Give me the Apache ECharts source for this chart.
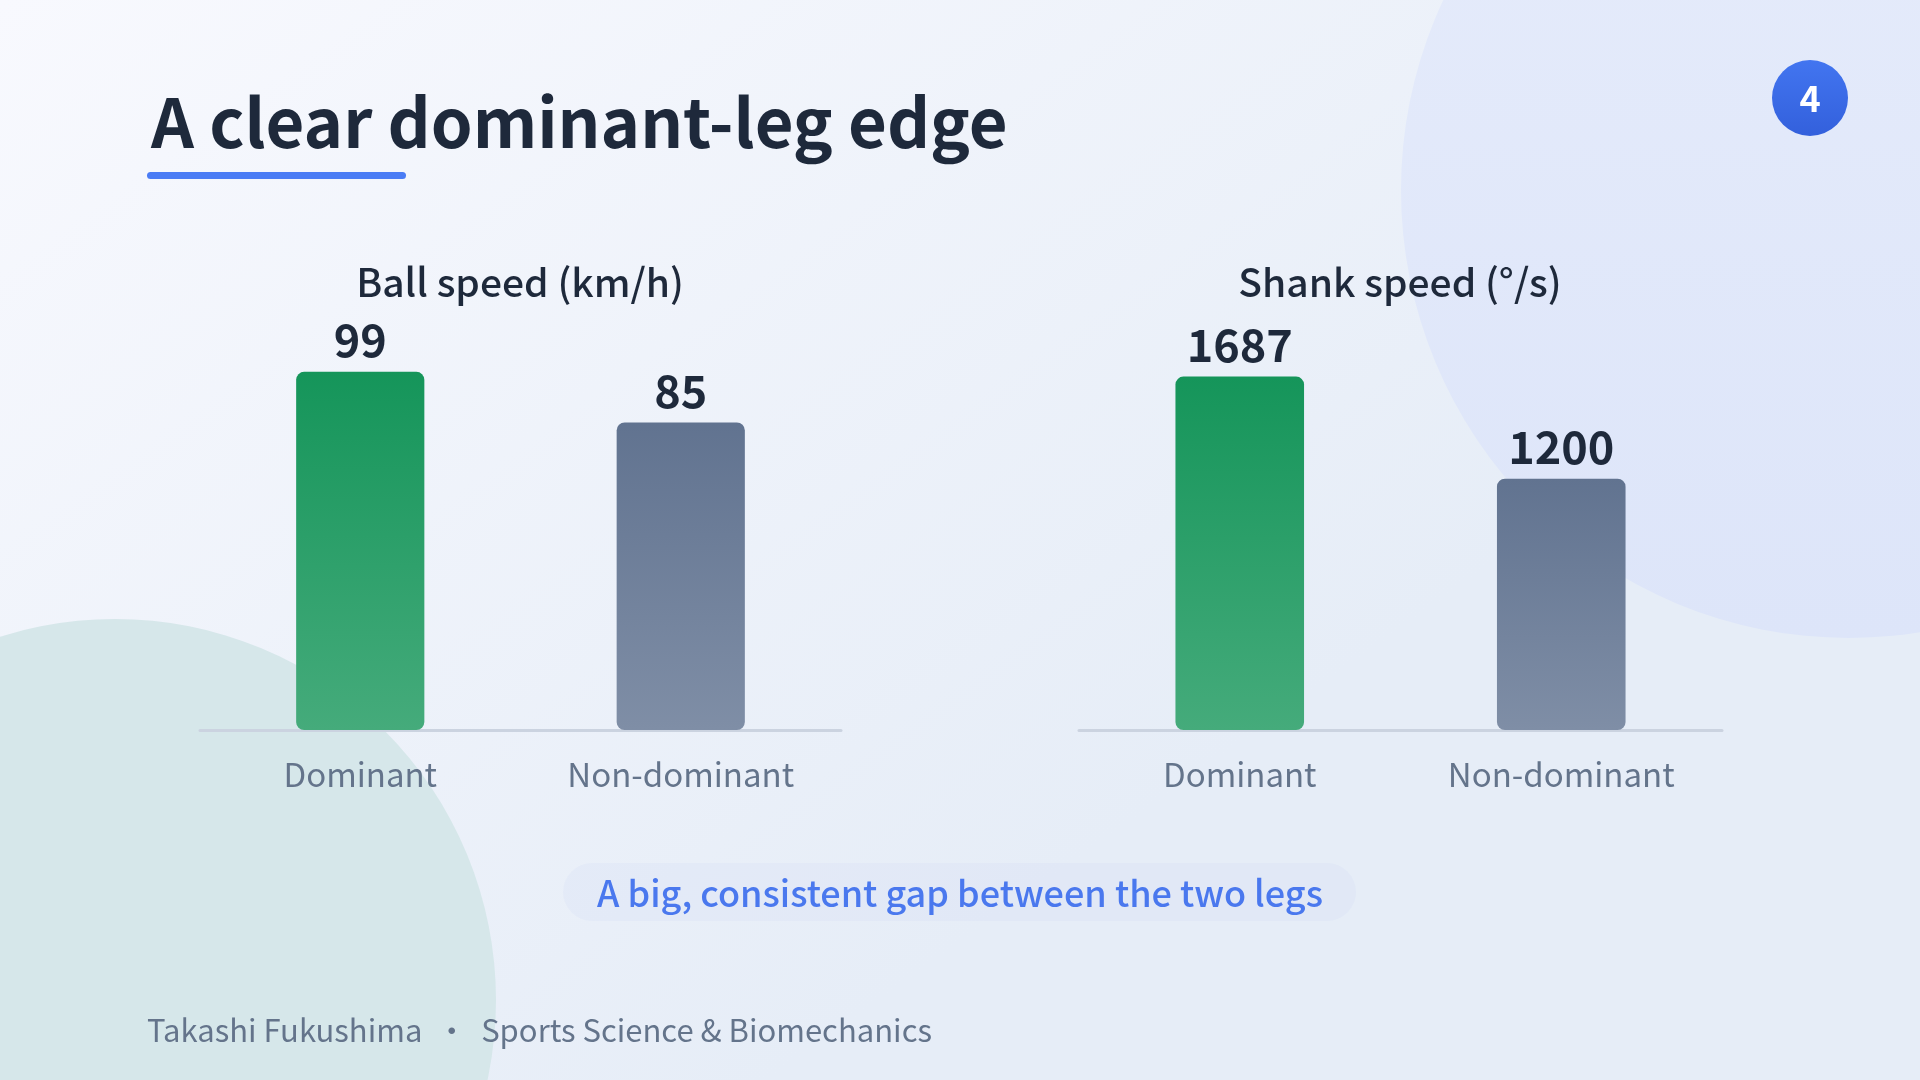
<!DOCTYPE html>
<html>
<head>
<meta charset="utf-8">
<script src="https://cdn.jsdelivr.net/npm/echarts@6/dist/echarts.min.js"></script>
<style>
html,body{margin:0;padding:0;width:1920px;height:1080px;overflow:hidden;}
#chart{width:1920px;height:1080px;}
</style>
</head>
<body>
<div id="chart"></div>
<script>
const categories = ['Dominant', 'Non-dominant'];
const ballSpeed = [99, 85];
const shankSpeed = [1687, 1200];
const chartTitles = ['Ball speed (km/h)', 'Shank speed (°/s)'];
const pageTitle = 'A clear dominant-leg edge';
const calloutText = 'A big, consistent gap between the two legs';
const footerText = 'Takashi Fukushima  ·  Sports Science & Biomechanics';
const pageNumber = '4';

const FONT = '"Noto Sans CJK SC", "Noto Sans", sans-serif';
const dark = '#1e293b';
const gray = '#64748b';

const grad = (a, b) => new echarts.graphic.LinearGradient(0, 0, 0, 1, [
  { offset: 0, color: a }, { offset: 1, color: b }
]);
const barColors = [grad('#15955a', '#45ab7b'), grad('#617390', '#7f8ea6')];

function barSeries(values, idx) {
  return {
    type: 'bar',
    xAxisIndex: idx, yAxisIndex: idx,
    barWidth: '40%',
    z: 3,
    data: values.map((v, i) => ({
      value: v,
      itemStyle: { color: barColors[i], borderRadius: 8 }
    })),
    label: {
      show: true, position: 'top', distance: 9,
      fontFamily: FONT, fontSize: 45, fontWeight: 'bold', color: dark
    }
  };
}

function xAxis(idx) {
  return {
    type: 'category', gridIndex: idx, data: categories,
    axisLine: { show: true, lineStyle: { color: '#cbd3e0', width: 3 } },
    axisTick: { show: false },
    axisLabel: { fontFamily: FONT, fontSize: 33, color: gray, margin: 28 }
  };
}
function yAxis(idx, max) {
  return {
    type: 'value', gridIndex: idx, min: 0, max: max,
    show: false, splitLine: { show: false }
  };
}

const chart = echarts.init(document.getElementById('chart'));
chart.setOption({
  animation: false,
  backgroundColor: new echarts.graphic.LinearGradient(0, 0, 0.4, 1, [
    { offset: 0, color: '#f8f9fe' }, { offset: 1, color: '#e6edf7' }
  ]),
  title: [
    { text: chartTitles[0], left: 515, top: 258, textAlign: 'center',
      textStyle: { fontFamily: FONT, fontSize: 39, fontWeight: 500, color: dark } },
    { text: chartTitles[1], left: 1395, top: 258, textAlign: 'center',
      textStyle: { fontFamily: FONT, fontSize: 39, fontWeight: 500, color: dark } }
  ],
  grid: [
    { left: 200, width: 641, top: 332, height: 398 },
    { left: 1079, width: 643, top: 332, height: 398 }
  ],
  xAxis: [xAxis(0), xAxis(1)],
  yAxis: [yAxis(0, 110), yAxis(1, 1900)],
  series: [barSeries(ballSpeed, 0), barSeries(shankSpeed, 1)],
  graphic: [
    { type: 'circle', z: -10, shape: { cx: 1849, cy: 190, r: 448 },
      style: { fill: new echarts.graphic.LinearGradient(0, 0, 0, 1, [
        { offset: 0, color: '#e6ecfb' }, { offset: 1, color: '#dde5f9' }]) } },
    { type: 'circle', z: -10, shape: { cx: 115, cy: 1000, r: 381 },
      style: { fill: '#d6e7ea' } },
    { type: 'text', z: 10, left: 151, top: 89,
      style: { text: pageTitle, fontFamily: FONT, fontSize: 67, fontWeight: 'bold', fill: dark } },
    { type: 'rect', z: 10, shape: { x: 147, y: 172, width: 259, height: 7, r: 3.5 },
      style: { fill: '#4a7cf5' } },
    { type: 'circle', z: 10, shape: { cx: 1810, cy: 98, r: 38 },
      style: { fill: new echarts.graphic.LinearGradient(0, 0, 0, 1, [
        { offset: 0, color: '#4275f0' }, { offset: 1, color: '#3360dc' }]) } },
    { type: 'text', z: 11, x: 1810, y: 98,
      style: { text: pageNumber, fontFamily: FONT, fontSize: 36, fontWeight: 'bold', fill: '#ffffff',
        align: 'center', verticalAlign: 'middle' } },
    { type: 'rect', z: 10, shape: { x: 563, y: 863, width: 793, height: 58, r: 29 },
      style: { fill: 'rgba(110,145,240,0.045)' } },
    { type: 'text', z: 11, x: 960, y: 893,
      style: { text: calloutText, fontFamily: FONT, fontSize: 36, fontWeight: 500, fill: '#4a78ee',
        align: 'center', verticalAlign: 'middle' } },
    { type: 'text', z: 11, x: 147, y: 1030,
      style: { text: footerText, fontFamily: FONT, fontSize: 31, fill: gray,
        align: 'left', verticalAlign: 'middle' } }
  ]
});
</script>
</body>
</html>
